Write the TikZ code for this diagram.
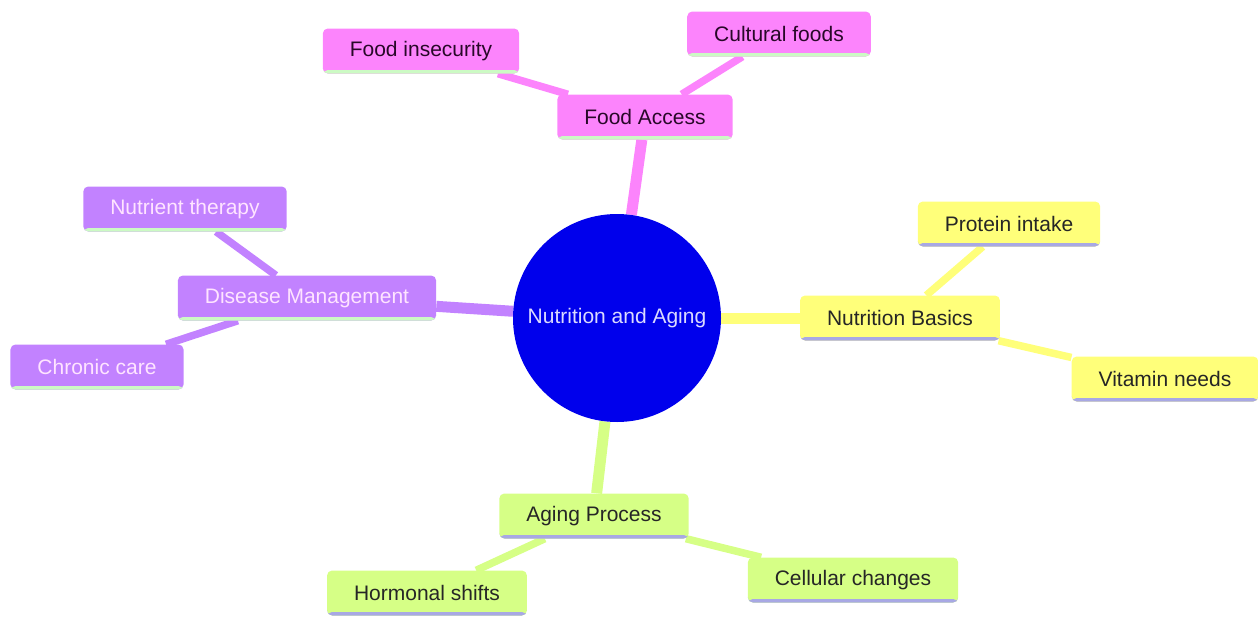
\documentclass[tikz,border=0pt]{standalone}
\usepackage{fontspec}
\setmainfont{Liberation Sans}
\usetikzlibrary{backgrounds}
\definecolor{rootblue}{RGB}{0,0,236}
\definecolor{roottext}{RGB}{218,218,255}
\definecolor{pinkfill}{RGB}{252,132,252}
\definecolor{yellowfill}{RGB}{255,255,122}
\definecolor{greenfill}{RGB}{214,255,134}
\definecolor{purplefill}{RGB}{194,130,255}
\definecolor{pinktext}{RGB}{40,8,40}
\definecolor{purpletext}{RGB}{255,228,255}
\definecolor{mintline}{RGB}{204,250,196}
\definecolor{lavline}{RGB}{168,168,228}
\tikzset{
  topic/.style={rectangle, rounded corners=5pt, inner xsep=27pt, inner ysep=0pt,
    minimum height=45pt, font=\fontsize{21}{25}\selectfont},
  uline/.style={path picture={\fill[#1] ([yshift=3.5pt]path picture bounding box.south west)
    rectangle (path picture bounding box.south east);}},
  pinktopic/.style={topic, fill=pinkfill, text=pinktext, uline=mintline},
  yellowtopic/.style={topic, fill=yellowfill, text=black!85, uline=lavline},
  greentopic/.style={topic, fill=greenfill, text=black!85, uline=lavline},
  purpletopic/.style={topic, fill=purplefill, text=purpletext, uline=mintline},
  trunk/.style={line width=11pt},
  twig/.style={line width=7.5pt}
}

\begin{document}
\begin{tikzpicture}[x=1pt, y=-1pt]
  \useasboundingbox (0,0) rectangle (1258,616);
  % root
  \node[circle, fill=rootblue, minimum size=208pt, inner sep=0pt, text=roottext,
    font=\fontsize{21}{25}\selectfont] (root) at (617,318) {Nutrition and Aging};
  % food access
  \node[pinktopic] (access) at (645,117) {Food Access};
  \node[pinktopic] (insecure) at (421,51) {Food insecurity};
  \node[pinktopic] (cultural) at (779,34) {Cultural foods};
  % nutrition basics
  \node[yellowtopic] (basics) at (900,318) {Nutrition Basics};
  \node[yellowtopic] (protein) at (1009,224) {Protein intake};
  \node[yellowtopic] (vitamin) at (1165,379) {Vitamin needs};
  % aging process
  \node[greentopic] (aging) at (594,516) {Aging Process};
  \node[greentopic] (hormone) at (427,593) {Hormonal shifts};
  \node[greentopic] (cellular) at (853,580) {Cellular changes};
  % disease management
  \node[purpletopic] (disease) at (307,298) {Disease Management};
  \node[purpletopic] (therapy) at (185,209) {Nutrient therapy};
  \node[purpletopic] (chronic) at (97,367) {Chronic care};
  % branches behind the boxes
  \begin{pgfonlayer}{background}
    \draw[trunk, pinkfill] (root) -- (access);
    \draw[twig, pinkfill] (access) -- (insecure);
    \draw[twig, pinkfill] (access) -- (cultural);
    \draw[trunk, yellowfill] (root) -- (basics);
    \draw[twig, yellowfill] (basics) -- (protein);
    \draw[twig, yellowfill] (basics) -- (vitamin);
    \draw[trunk, greenfill] (root) -- (aging);
    \draw[twig, greenfill] (aging) -- (hormone);
    \draw[twig, greenfill] (aging) -- (cellular);
    \draw[trunk, purplefill] (root) -- (disease);
    \draw[twig, purplefill] (disease) -- (therapy);
    \draw[twig, purplefill] (disease) -- (chronic);
  \end{pgfonlayer}
\end{tikzpicture}
\end{document}
